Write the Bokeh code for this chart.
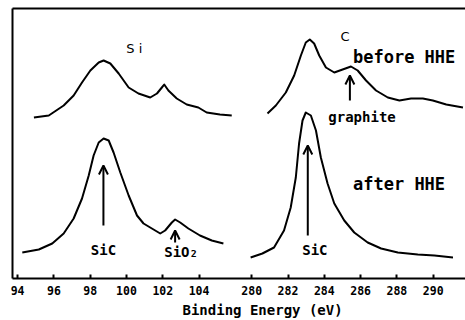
from bokeh.plotting import figure
from bokeh.models import Range1d, FixedTicker, LinearAxis, Label, Arrow, OpenHead, Title
from bokeh.embed import file_html
from bokeh.resources import INLINE

# ---- data ----
# Si 2p region, before HHE
si_before_ev = [94.90, 95.72, 96.54, 97.09, 97.55, 98.01, 98.47, 98.74, 99.11, 99.57,
                100.12, 100.66, 101.31, 101.68, 101.95, 102.08, 102.31, 102.77, 103.32, 103.96,
                104.42, 105.15, 105.80]
si_before_int = [161, 163, 173, 183, 196, 208, 216, 218, 215, 205,
                 191, 185, 181, 185, 191, 194, 188, 180, 174, 171,
                 166, 164, 163]
# Si 2p region, after HHE
si_after_ev = [94.26, 95.17, 95.91, 96.54, 97.09, 97.55, 97.92, 98.19, 98.47, 98.74,
               99.02, 99.29, 99.66, 100.12, 100.58, 100.94, 101.40, 101.86, 102.13, 102.50,
               102.68, 102.96, 103.41, 104.05, 104.70, 105.34]
si_after_int = [26, 29, 35, 45, 60, 80, 103, 123, 136, 140,
                138, 126, 106, 83, 63, 55, 50, 45, 48, 56,
                59, 56, 50, 43, 38, 35]
# C 1s region, before HHE
c_before_ev = [280.87, 281.33, 281.88, 282.34, 282.71, 282.98, 283.20, 283.44, 283.72, 284.09,
               284.55, 285.01, 285.47, 285.84, 286.30, 286.85, 287.50, 288.14, 288.78, 289.43,
               289.98, 290.72, 291.64]
c_before_int = [165, 173, 186, 203, 223, 236, 239, 235, 223, 211,
                206, 209, 212, 208, 198, 188, 181, 178, 180, 180,
                178, 174, 171]
# C 1s region, after HHE
c_after_ev = [279.94, 280.59, 281.23, 281.78, 282.15, 282.43, 282.61, 282.80, 282.98, 283.26,
              283.54, 283.81, 284.18, 284.55, 285.10, 285.65, 286.39, 287.13, 288.05, 289.15,
              290.07, 291.09]
c_after_int = [21, 25, 31, 48, 71, 101, 135, 158, 166, 163,
               148, 121, 95, 75, 58, 46, 36, 30, 26, 24,
               23, 21]

si_ticks = [94, 96, 98, 100, 102, 104]
c_ticks = [280, 282, 284, 286, 288, 290]
C_SHIFT = 173.1  # broken axis: C region drawn shifted left

# arrows: (region, x, y_start, y_end)
arrows = [
    ("Si", 98.73, 53, 113),
    ("Si", 102.68, 36, 48),
    ("C", 283.09, 43, 133),
    ("C", 285.41, 178, 203),
]

def cx(vals):
    return [v - C_SHIFT for v in vals]

MONO = "DejaVu Sans Mono"

p = figure(frame_width=453, frame_height=270, output_backend="svg", toolbar_location=None,
           x_range=Range1d(93.72, 118.68), y_range=Range1d(0, 270),
           min_border_left=12, min_border_right=0, min_border_top=8, min_border_bottom=0)
p.outline_line_color = None
p.grid.visible = False
p.background_fill_color = "white"

for xs, ys in [(si_before_ev, si_before_int), (si_after_ev, si_after_int),
               (cx(c_before_ev), c_before_int), (cx(c_after_ev), c_after_int)]:
    p.line(xs, ys, line_color="black", line_width=2, line_join="round")

# bottom axis
ax = p.xaxis[0]
ax.ticker = FixedTicker(ticks=si_ticks + cx(c_ticks))
ax.major_label_overrides = {t - C_SHIFT: str(t) for t in c_ticks}
ax.major_tick_in = 4
ax.major_tick_out = 0
ax.minor_tick_line_color = None
ax.axis_line_width = 2
ax.major_tick_line_width = 2
ax.major_label_text_font = MONO
ax.major_label_text_font_style = "bold"
ax.major_label_text_font_size = "11.5px"
ax.major_label_text_color = "black"
ax.major_label_standoff = 7

# left and top borders as plain axis lines
ay = p.yaxis[0]
ay.ticker = FixedTicker(ticks=[])
ay.major_tick_line_color = None
ay.minor_tick_line_color = None
ay.major_label_standoff = 0
ay.axis_line_width = 2

top = LinearAxis(ticker=FixedTicker(ticks=[]), major_tick_line_color=None,
                 minor_tick_line_color=None, major_label_standoff=0, axis_line_width=2)
p.add_layout(top, "above")

p.add_layout(Title(text="Binding Energy (eV)", align="left", offset=170, standoff=4,
                   text_font=MONO, text_font_style="bold", text_font_size="14px",
                   text_color="black"), "below")

for region, x, y0, y1 in arrows:
    xx = x - C_SHIFT if region == "C" else x
    p.add_layout(Arrow(end=OpenHead(size=9, line_width=2), x_start=xx, y_start=y0,
                       x_end=xx, y_end=y1, line_width=2, line_color="black"))

def lab(x, y, text, size, bold=True, align="center", font=MONO):
    p.add_layout(Label(x=x, y=y, text=text, text_font=font, text_font_size=size,
                       text_font_style="bold" if bold else "normal", text_align=align,
                       text_baseline="middle", text_color="black"))

lab(100.43, 230, "S i", "13px", bold=False, font="DejaVu Sans")
lab(285.14 - C_SHIFT, 242, "C", "13px", bold=False, font="DejaVu Sans")
lab(285.58 - C_SHIFT, 222, "before HHE", "17px", align="left")
lab(285.58 - C_SHIFT, 95, "after HHE", "17px", align="left")
lab(286.08 - C_SHIFT, 162, "graphite", "14px")
lab(98.73, 29, "SiC", "14px")
lab(103.01, 27, "SiO\u2082", "14px")
lab(283.48 - C_SHIFT, 29, "SiC", "14px")

open("out.html", "w").write(file_html(p, INLINE))
